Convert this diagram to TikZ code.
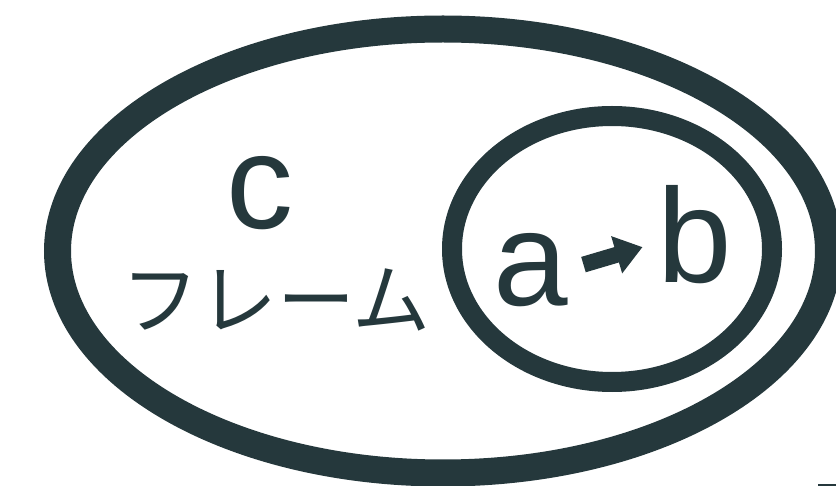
\documentclass[tikz,border=0pt]{standalone}
\usepackage{fontspec}
\setmainfont{Liberation Sans}
\newfontfamily\jpfont{Noto Sans CJK JP}
\usepackage{xcolor}
\usepackage{tikz}
\usetikzlibrary{shapes.geometric, arrows.meta, positioning}
\definecolor{slate}{HTML}{25383C}

\begin{document}
\begin{tikzpicture}[
    x=1pt, y=-1pt,
    ring/.style={ellipse, draw=slate, inner sep=0pt},
    letter/.style={anchor=base, text=slate, inner sep=15pt, font=\fontsize{134}{134}\selectfont},
    arrow/.style={-{Triangle[length=27pt,width=37pt]}, line width=16pt, draw=slate}
]
    \clip (0,0) rectangle (836,486);
    \useasboundingbox (0,0) rectangle (836,486);

    % Outer and inner rings
    \node (outer) [ring, line width=27pt, minimum width=771pt, minimum height=444pt] at (443,251) {};
    \node (inner) [ring, line width=20pt, minimum width=320pt, minimum height=266pt] at (612,249) {};

    % Labels of the outer ring
    \node (c) [letter] at (260,229) {c};
    \node (frame) [text=slate, font=\jpfont\fontsize{78}{78}\selectfont, inner sep=0pt] at (276,300) {フレーム};

    % a -> b inside the inner ring
    \node (a) [letter] at (531,306) {a};
    \node (b) [letter] at (695,283) {b};
    \draw [arrow] ([yshift=6pt]a.east) -- ([yshift=-12pt]b.west);

    % Small mark at the bottom edge
    \draw [slate, line width=2pt] (818,485) -- (836,485);

\end{tikzpicture}
\end{document}
